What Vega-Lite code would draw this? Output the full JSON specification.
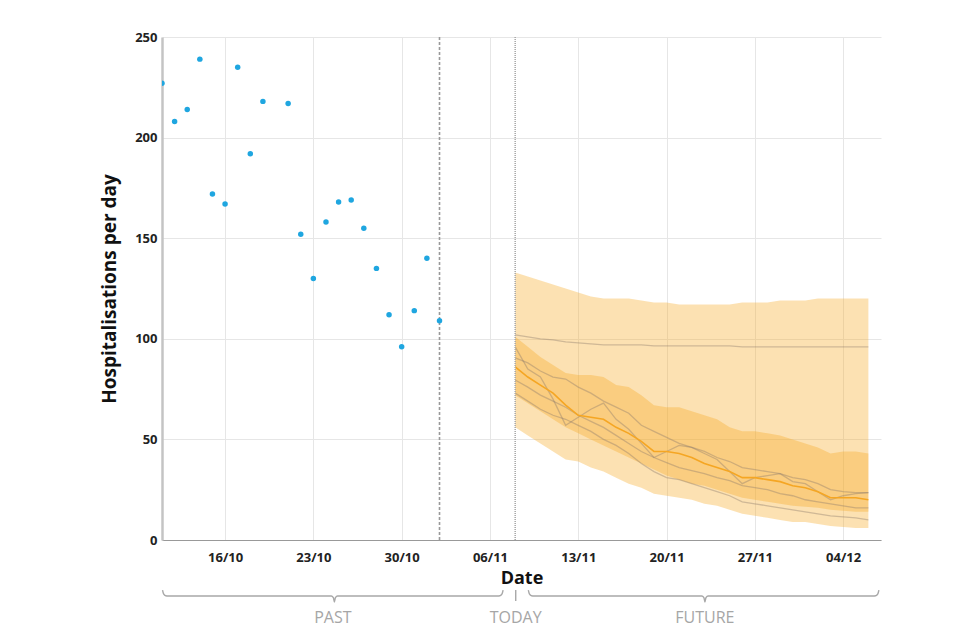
{
  "$schema": "https://vega.github.io/schema/vega-lite/v6.json",
  "width": 719,
  "height": 503,
  "autosize": {"type": "none"},
  "padding": {"left": 162, "top": 37, "right": 79, "bottom": 100},
  "background": "white",
  "config": {
    "view": {"stroke": null},
    "font": "Open Sans",
    "axis": {
      "gridColor": "#e6e6e6",
      "labelFont": "Open Sans",
      "labelFontWeight": "bold",
      "labelFontSize": 13,
      "labelColor": "#222222",
      "titleFont": "Open Sans",
      "titleFontWeight": "bold",
      "titleFontSize": 18,
      "titleColor": "#111111",
      "ticks": false
    }
  },
  "datasets": {
    "obs": [
      {"date": "2022-10-11T00:00", "value": 227},
      {"date": "2022-10-12T00:00", "value": 208},
      {"date": "2022-10-13T00:00", "value": 214},
      {"date": "2022-10-14T00:00", "value": 239},
      {"date": "2022-10-15T00:00", "value": 172},
      {"date": "2022-10-16T00:00", "value": 167},
      {"date": "2022-10-17T00:00", "value": 235},
      {"date": "2022-10-18T00:00", "value": 192},
      {"date": "2022-10-19T00:00", "value": 218},
      {"date": "2022-10-21T00:00", "value": 217},
      {"date": "2022-10-22T00:00", "value": 152},
      {"date": "2022-10-23T00:00", "value": 130},
      {"date": "2022-10-24T00:00", "value": 158},
      {"date": "2022-10-25T00:00", "value": 168},
      {"date": "2022-10-26T00:00", "value": 169},
      {"date": "2022-10-27T00:00", "value": 155},
      {"date": "2022-10-28T00:00", "value": 135},
      {"date": "2022-10-29T00:00", "value": 112},
      {"date": "2022-10-30T00:00", "value": 96},
      {"date": "2022-10-31T00:00", "value": 114},
      {"date": "2022-11-01T00:00", "value": 140},
      {"date": "2022-11-02T00:00", "value": 109}
    ],
    "fc": [
      {"date": "2022-11-08T00:00", "lo90": 56, "hi90": 133, "lo50": 72, "hi50": 101, "med": 86, "s1": 102, "s2": 96, "s3": 90.5, "s4": 79.5, "s5": 73},
      {"date": "2022-11-09T00:00", "lo90": 52, "hi90": 131, "lo50": 68, "hi50": 96, "med": 81, "s1": 101, "s2": 85, "s3": 88, "s4": 76, "s5": 69},
      {"date": "2022-11-10T00:00", "lo90": 48, "hi90": 129, "lo50": 64, "hi50": 91, "med": 77, "s1": 100, "s2": 81, "s3": 84, "s4": 72, "s5": 65},
      {"date": "2022-11-11T00:00", "lo90": 44, "hi90": 127, "lo50": 60, "hi50": 87, "med": 73, "s1": 99.5, "s2": 70, "s3": 81, "s4": 69, "s5": 62},
      {"date": "2022-11-12T00:00", "lo90": 40, "hi90": 125, "lo50": 56, "hi50": 83, "med": 67, "s1": 98.5, "s2": 57, "s3": 80, "s4": 66, "s5": 60},
      {"date": "2022-11-13T00:00", "lo90": 39, "hi90": 123, "lo50": 53, "hi50": 82, "med": 62, "s1": 98, "s2": 61, "s3": 76, "s4": 62, "s5": 57},
      {"date": "2022-11-14T00:00", "lo90": 36, "hi90": 121, "lo50": 50, "hi50": 82, "med": 61, "s1": 97.5, "s2": 65, "s3": 73, "s4": 59, "s5": 54},
      {"date": "2022-11-15T00:00", "lo90": 34, "hi90": 120, "lo50": 47, "hi50": 81, "med": 60, "s1": 97, "s2": 68, "s3": 69, "s4": 56, "s5": 50},
      {"date": "2022-11-16T00:00", "lo90": 31, "hi90": 120, "lo50": 44, "hi50": 77, "med": 56, "s1": 97, "s2": 60, "s3": 66, "s4": 52, "s5": 47},
      {"date": "2022-11-17T00:00", "lo90": 28, "hi90": 120, "lo50": 41, "hi50": 76, "med": 53, "s1": 97, "s2": 55, "s3": 63, "s4": 48, "s5": 43},
      {"date": "2022-11-18T00:00", "lo90": 26, "hi90": 119, "lo50": 38, "hi50": 72, "med": 49, "s1": 97, "s2": 48, "s3": 57, "s4": 44, "s5": 38},
      {"date": "2022-11-19T00:00", "lo90": 23, "hi90": 118, "lo50": 35, "hi50": 67, "med": 44, "s1": 96.5, "s2": 41, "s3": 54, "s4": 41, "s5": 34},
      {"date": "2022-11-20T00:00", "lo90": 22, "hi90": 118, "lo50": 32, "hi50": 66, "med": 44, "s1": 96.5, "s2": 44, "s3": 51, "s4": 38.5, "s5": 31},
      {"date": "2022-11-21T00:00", "lo90": 21, "hi90": 117, "lo50": 30, "hi50": 66, "med": 43, "s1": 96.5, "s2": 47, "s3": 48, "s4": 36, "s5": 30},
      {"date": "2022-11-22T00:00", "lo90": 20, "hi90": 117, "lo50": 28, "hi50": 64, "med": 41, "s1": 96.5, "s2": 46, "s3": 46, "s4": 34.5, "s5": 28},
      {"date": "2022-11-23T00:00", "lo90": 18, "hi90": 117, "lo50": 27, "hi50": 62, "med": 38, "s1": 96.5, "s2": 43, "s3": 44, "s4": 33, "s5": 26},
      {"date": "2022-11-24T00:00", "lo90": 17, "hi90": 117, "lo50": 25, "hi50": 60, "med": 36, "s1": 96.5, "s2": 40, "s3": 41, "s4": 31, "s5": 24},
      {"date": "2022-11-25T00:00", "lo90": 15, "hi90": 117, "lo50": 23, "hi50": 56, "med": 34, "s1": 96.5, "s2": 34, "s3": 39, "s4": 29.5, "s5": 22},
      {"date": "2022-11-26T00:00", "lo90": 13, "hi90": 118, "lo50": 21, "hi50": 54, "med": 31, "s1": 96, "s2": 28, "s3": 36, "s4": 27, "s5": 19},
      {"date": "2022-11-27T00:00", "lo90": 12, "hi90": 118, "lo50": 20, "hi50": 54, "med": 31, "s1": 96, "s2": 31, "s3": 35, "s4": 26, "s5": 18},
      {"date": "2022-11-28T00:00", "lo90": 11, "hi90": 118, "lo50": 19, "hi50": 53, "med": 30, "s1": 96, "s2": 32, "s3": 34, "s4": 25, "s5": 17},
      {"date": "2022-11-29T00:00", "lo90": 10, "hi90": 119, "lo50": 18, "hi50": 52, "med": 29, "s1": 96, "s2": 33, "s3": 33, "s4": 23, "s5": 16},
      {"date": "2022-11-30T00:00", "lo90": 9, "hi90": 119, "lo50": 17, "hi50": 50, "med": 27, "s1": 96, "s2": 29, "s3": 31, "s4": 22, "s5": 15},
      {"date": "2022-12-01T00:00", "lo90": 9, "hi90": 119, "lo50": 16.5, "hi50": 48, "med": 26, "s1": 96, "s2": 28, "s3": 30, "s4": 20, "s5": 14},
      {"date": "2022-12-02T00:00", "lo90": 8, "hi90": 120, "lo50": 16, "hi50": 46, "med": 24, "s1": 96, "s2": 24, "s3": 28, "s4": 19, "s5": 13},
      {"date": "2022-12-03T00:00", "lo90": 7, "hi90": 120, "lo50": 15, "hi50": 43, "med": 21, "s1": 96, "s2": 20, "s3": 25, "s4": 18, "s5": 12},
      {"date": "2022-12-04T00:00", "lo90": 6.5, "hi90": 120, "lo50": 14.5, "hi50": 44, "med": 21, "s1": 96, "s2": 22, "s3": 24, "s4": 17, "s5": 11.5},
      {"date": "2022-12-05T00:00", "lo90": 6, "hi90": 120, "lo50": 14, "hi50": 44, "med": 21, "s1": 96, "s2": 23, "s3": 23.5, "s4": 16, "s5": 11},
      {"date": "2022-12-06T00:00", "lo90": 6, "hi90": 120, "lo50": 14, "hi50": 43, "med": 20, "s1": 96, "s2": 23.5, "s3": 23.5, "s4": 16, "s5": 10}
    ],
    "brackets": [
      {"grp": "past", "date": "2022-10-11T01:00", "y": -24.9},
      {"grp": "past", "date": "2022-10-11T03:00", "y": -26.8},
      {"grp": "past", "date": "2022-10-11T07:00", "y": -27.7},
      {"grp": "past", "date": "2022-10-11T12:00", "y": -27.8},
      {"grp": "past", "date": "2022-10-24T10:00", "y": -27.8},
      {"grp": "past", "date": "2022-10-24T14:00", "y": -28.6},
      {"grp": "past", "date": "2022-10-24T16:00", "y": -30.8},
      {"grp": "past", "date": "2022-10-24T18:00", "y": -28.6},
      {"grp": "past", "date": "2022-10-24T22:00", "y": -27.8},
      {"grp": "past", "date": "2022-11-06T14:00", "y": -27.8},
      {"grp": "past", "date": "2022-11-06T19:00", "y": -27.7},
      {"grp": "past", "date": "2022-11-06T23:00", "y": -26.8},
      {"grp": "past", "date": "2022-11-07T01:00", "y": -24.9},
      {"grp": "future", "date": "2022-11-09T01:00", "y": -24.9},
      {"grp": "future", "date": "2022-11-09T03:00", "y": -26.8},
      {"grp": "future", "date": "2022-11-09T07:00", "y": -27.7},
      {"grp": "future", "date": "2022-11-09T12:00", "y": -27.8},
      {"grp": "future", "date": "2022-11-22T19:00", "y": -27.8},
      {"grp": "future", "date": "2022-11-22T23:00", "y": -28.6},
      {"grp": "future", "date": "2022-11-23T01:00", "y": -30.8},
      {"grp": "future", "date": "2022-11-23T03:00", "y": -28.6},
      {"grp": "future", "date": "2022-11-23T07:00", "y": -27.8},
      {"grp": "future", "date": "2022-12-06T08:00", "y": -27.8},
      {"grp": "future", "date": "2022-12-06T14:00", "y": -27.7},
      {"grp": "future", "date": "2022-12-06T18:00", "y": -26.8},
      {"grp": "future", "date": "2022-12-06T20:00", "y": -24.9}
    ],
    "labels": [
      {"label": "PAST", "date": "2022-10-24T13:00", "y": -38.6},
      {"label": "TODAY", "date": "2022-11-08T01:00", "y": -38.6},
      {"label": "FUTURE", "date": "2022-11-23T01:00", "y": -38.6}
    ],
    "todaytick": [
      {"date": "2022-11-08T01:00", "y": -24.9, "y2": -30.3}
    ]
  },
  "layer": [
    {
      "data": {"name": "fc"},
      "mark": {"type": "area", "color": "#f7a823", "opacity": 0.35},
      "encoding": {
        "x": {
          "field": "date", "type": "temporal",
          "scale": {"domain": [{"year": 2022, "month": 10, "date": 11}, {"year": 2022, "month": 12, "date": 7}]},
          "axis": {
            "title": "Date", "format": "%d/%m",
            "tickCount": {"interval": "week", "step": 1},
            "grid": true, "domainColor": "#999999", "labelPadding": 11, "titlePadding": 5
          }
        },
        "y": {
          "field": "hi90", "type": "quantitative",
          "scale": {"domain": [0, 250], "nice": false},
          "axis": {
            "title": "Hospitalisations per day",
            "values": [0, 50, 100, 150, 200, 250],
            "titleFontSize": 19,
            "domainColor": "#c4c4c4", "domainWidth": 2.5, "labelPadding": 5, "titlePadding": 15
          }
        },
        "y2": {"field": "lo90"}
      }
    },
    {
      "data": {"name": "fc"},
      "mark": {"type": "area", "color": "#f7a823", "opacity": 0.35},
      "encoding": {
        "x": {"field": "date", "type": "temporal"},
        "y": {"field": "hi50", "type": "quantitative"},
        "y2": {"field": "lo50"}
      }
    },
    {
      "data": {"name": "fc"},
      "transform": [{"fold": ["s1", "s2", "s3", "s4", "s5"], "as": ["scenario", "val"]}],
      "mark": {"type": "line", "color": "#8c7b6b", "opacity": 0.4, "strokeWidth": 1.3},
      "encoding": {
        "x": {"field": "date", "type": "temporal"},
        "y": {"field": "val", "type": "quantitative"},
        "detail": {"field": "scenario"}
      }
    },
    {
      "data": {"name": "fc"},
      "mark": {"type": "line", "color": "#f5a623", "strokeWidth": 1.6},
      "encoding": {
        "x": {"field": "date", "type": "temporal"},
        "y": {"field": "med", "type": "quantitative"}
      }
    },
    {
      "data": {"values": [{"date": "2022-11-02T00:00"}]},
      "mark": {"type": "rule", "color": "#999999", "strokeWidth": 1.6, "strokeDash": [3, 2]},
      "encoding": {"x": {"field": "date", "type": "temporal"}}
    },
    {
      "data": {"values": [{"date": "2022-11-08T00:00"}]},
      "mark": {"type": "rule", "color": "#aaaaaa", "strokeWidth": 1.6, "strokeDash": [1, 1]},
      "encoding": {"x": {"field": "date", "type": "temporal"}}
    },
    {
      "data": {"name": "obs"},
      "mark": {"type": "circle", "color": "#1fa6e0", "opacity": 1, "size": 30, "clip": true},
      "encoding": {
        "x": {"field": "date", "type": "temporal"},
        "y": {"field": "value", "type": "quantitative"}
      }
    },
    {
      "data": {"name": "brackets"},
      "mark": {"type": "line", "color": "#a8a8a8", "strokeWidth": 1.4, "interpolate": "monotone"},
      "encoding": {
        "x": {"field": "date", "type": "temporal"},
        "y": {"field": "y", "type": "quantitative"},
        "detail": {"field": "grp"}
      }
    },
    {
      "data": {"name": "todaytick"},
      "mark": {"type": "rule", "color": "#a8a8a8", "strokeWidth": 1.4},
      "encoding": {
        "x": {"field": "date", "type": "temporal"},
        "y": {"field": "y", "type": "quantitative"},
        "y2": {"field": "y2"}
      }
    },
    {
      "data": {"name": "labels"},
      "mark": {"type": "text", "color": "#a6a6a6", "fontSize": 16, "font": "Open Sans", "baseline": "middle", "align": "center"},
      "encoding": {
        "x": {"field": "date", "type": "temporal"},
        "y": {"field": "y", "type": "quantitative"},
        "text": {"field": "label"}
      }
    }
  ]
}
